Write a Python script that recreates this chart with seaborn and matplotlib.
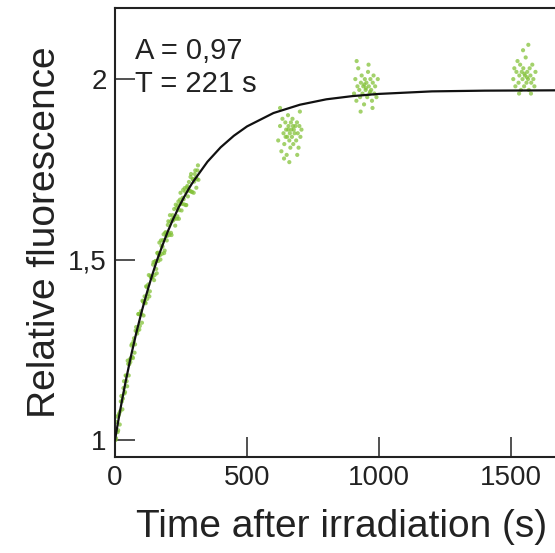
import matplotlib
matplotlib.use("Agg")
import matplotlib.pyplot as plt
import seaborn as sns
import pandas as pd

# ---- data ----
rise_t = [0, 4, 8, 12, 16, 20, 24, 28, 32, 36, 40, 44, 48, 52, 56, 60, 64, 68, 72, 76,
          80, 84, 88, 92, 96, 100, 104, 108, 112, 116, 120, 124, 128, 132, 136, 140, 144, 148, 152, 156,
          160, 164, 168, 172, 176, 180, 184, 188, 192, 196, 200, 204, 208, 212, 216, 220, 224, 228, 232, 236,
          240, 244, 248, 252, 256, 260, 264, 268, 272, 276, 280, 284, 288, 292, 296, 300, 304, 308, 312, 316,
          2, 6, 10, 14, 18, 22, 26, 30, 34, 38, 42, 46, 50, 54, 58, 62, 66, 70, 74, 78,
          82, 86, 90, 94, 98, 102, 106, 110, 114, 118, 122, 126, 130, 134, 138, 142, 146, 150, 154, 158,
          162, 166, 170, 174, 178, 182, 186, 190, 194, 198, 202, 206, 210, 214, 218, 222, 226, 230, 234, 238,
          242, 246, 250, 254, 258, 262, 266, 270, 274, 278, 282, 286, 290, 294, 298, 302, 306, 310, 314]
rise_y = [1.018, 1.005, 1.065, 1.027, 1.074, 1.080, 1.122, 1.085, 1.144, 1.129, 1.179, 1.163, 1.220, 1.179, 1.223, 1.227, 1.266, 1.227, 1.282, 1.265,
          1.313, 1.295, 1.349, 1.306, 1.348, 1.349, 1.386, 1.345, 1.398, 1.379, 1.424, 1.404, 1.457, 1.412, 1.451, 1.451, 1.486, 1.443, 1.495, 1.474,
          1.518, 1.496, 1.547, 1.500, 1.538, 1.536, 1.570, 1.525, 1.576, 1.553, 1.596, 1.573, 1.623, 1.574, 1.611, 1.608, 1.640, 1.594, 1.643, 1.620,
          1.661, 1.637, 1.685, 1.636, 1.671, 1.667, 1.698, 1.651, 1.700, 1.675, 1.715, 1.690, 1.737, 1.687, 1.722, 1.716, 1.747, 1.699, 1.747, 1.721,
          1.000, 1.050, 1.022, 1.069, 1.043, 1.107, 1.107, 1.115, 1.163, 1.133, 1.178, 1.149, 1.211, 1.210, 1.216, 1.262, 1.230, 1.273, 1.242, 1.303,
          1.301, 1.304, 1.349, 1.316, 1.357, 1.325, 1.384, 1.380, 1.382, 1.426, 1.391, 1.431, 1.398, 1.455, 1.450, 1.451, 1.493, 1.457, 1.496, 1.462,
          1.519, 1.512, 1.512, 1.553, 1.516, 1.554, 1.518, 1.574, 1.566, 1.566, 1.606, 1.568, 1.605, 1.568, 1.623, 1.615, 1.613, 1.652, 1.613, 1.650,
          1.613, 1.666, 1.657, 1.654, 1.693, 1.653, 1.688, 1.651, 1.704, 1.694, 1.691, 1.729, 1.688, 1.723, 1.685, 1.737, 1.727, 1.723, 1.761]

c1_t = [618, 625, 630, 634, 638, 641, 645, 648, 650, 652, 655, 657, 660, 662, 664, 666, 668, 670, 672, 675,
        677, 680, 683, 686, 689, 692, 695, 698, 702, 706, 640, 660, 690, 625, 700, 646, 674, 656]
c1_y = [1.83, 1.87, 1.80, 1.89, 1.85, 1.82, 1.88, 1.86, 1.79, 1.84, 1.90, 1.87, 1.83, 1.85, 1.81, 1.88, 1.86, 1.84, 1.89, 1.82,
        1.86, 1.85, 1.87, 1.83, 1.88, 1.85, 1.81, 1.87, 1.84, 1.86, 1.78, 1.77, 1.79, 1.92, 1.91, 1.84, 1.87, 1.86]

c2_t = [905, 910, 914, 918, 921, 925, 928, 931, 934, 937, 940, 943, 946, 949, 952, 955, 958, 961, 964, 967,
        970, 973, 976, 979, 982, 985, 990, 995, 915, 960, 930, 975, 950, 944, 966]
c2_y = [1.96, 2.00, 1.94, 1.98, 2.03, 1.97, 1.95, 1.99, 2.01, 1.96, 1.98, 1.93, 2.00, 1.97, 1.99, 1.95, 2.02, 1.98, 1.96, 2.00,
        1.97, 1.94, 1.99, 2.01, 1.96, 1.98, 1.95, 2.00, 2.05, 2.04, 1.91, 1.92, 1.975, 1.985, 1.965]

c3_t = [1508, 1512, 1516, 1520, 1524, 1528, 1531, 1534, 1537, 1540, 1543, 1546, 1549, 1552, 1555, 1558, 1561, 1564, 1567, 1570,
        1573, 1576, 1580, 1584, 1588, 1592, 1530, 1575, 1545, 1565, 1550, 1560]
c3_y = [2.00, 2.03, 1.98, 2.02, 2.05, 1.99, 2.01, 2.04, 1.97, 2.02, 2.00, 2.03, 1.98, 2.01, 2.06, 1.99, 2.02, 2.00, 1.97, 2.03,
        2.01, 1.99, 2.04, 2.00, 1.98, 2.02, 1.96, 1.96, 2.08, 2.095, 2.015, 2.005]

# fitted curve (A = 0,97, T = 221 s)
fit_t = [0, 10, 20, 30, 40, 50, 60, 70, 80, 90, 100, 110, 120, 130, 140, 150, 160, 170, 180, 190,
         200, 210, 220, 230, 240, 250, 260, 270, 280, 290, 300, 350, 400, 450, 500, 600, 700, 800, 900, 1000,
         1200, 1400, 1700]
fit_y = [1.000, 1.043, 1.084, 1.123, 1.161, 1.196, 1.231, 1.263, 1.295, 1.324, 1.353, 1.380, 1.406, 1.431, 1.455, 1.478, 1.500, 1.520, 1.540, 1.559,
         1.578, 1.595, 1.612, 1.627, 1.643, 1.657, 1.671, 1.684, 1.697, 1.709, 1.720, 1.771, 1.811, 1.843, 1.869, 1.906, 1.929, 1.944, 1.953, 1.959,
         1.966, 1.968, 1.969]

x_ticks = [0, 500, 1000, 1500]
y_ticks = [1.0, 1.5, 2.0]
y_tick_labels = ["1", "1,5", "2"]
x_label = "Time after irradiation (s)"
y_label = "Relative fluorescence"
annot = "A = 0,97\nT = 221 s"

# ---- plotting ----
sns.set_style("white")
plt.rcParams['font.family'] = ['Liberation Sans', 'DejaVu Sans']

fig = plt.figure(figsize=(5.55, 5.53), dpi=100)
ax = fig.add_axes([115 / 555, 96 / 553, 440 / 555, 449 / 553])

pts = pd.DataFrame({"t": rise_t + c1_t + c2_t + c3_t, "y": rise_y + c1_y + c2_y + c3_y})
sns.scatterplot(data=pts, x="t", y="y", ax=ax, s=9, color="#84c23a", edgecolor="none",
                alpha=0.75, zorder=2)
fit = pd.DataFrame({"t": fit_t, "y": fit_y})
sns.lineplot(data=fit, x="t", y="y", ax=ax, color="#111111", linewidth=1.6,
             estimator=None, sort=False, zorder=3)

ax.set_xlim(0, 1666)
ax.set_ylim(0.953, 2.197)
ax.set_xticks(x_ticks)
ax.set_xticklabels([str(v) for v in x_ticks])
ax.set_yticks(y_ticks)
ax.set_yticklabels(y_tick_labels)
ax.tick_params(bottom=True, left=True, top=False, right=False,
               direction="in", length=14.4, width=1.1, labelsize=20, color="#222222",
               labelcolor="#222222", pad=6)
for side in ["left", "bottom", "top"]:
    ax.spines[side].set_visible(True)
    ax.spines[side].set_linewidth(1.5)
    ax.spines[side].set_color("#222222")
ax.spines["right"].set_visible(False)

ax.set_xlabel(x_label, fontsize=28, color="#222222")
ax.set_ylabel(y_label, fontsize=28, color="#222222")
ax.xaxis.set_label_coords((342 - 115) / 440, -(527 - 457) / 449)
ax.yaxis.set_label_coords(-(115 - 45) / 440, 0.5)
ax.xaxis.label.set_va("center")
ax.yaxis.label.set_va("center")

ax.text(76, 2.032, annot, fontsize=21, color="#222222", va="center", ha="left",
        linespacing=1.25)

fig.savefig("out.png", dpi=100)
